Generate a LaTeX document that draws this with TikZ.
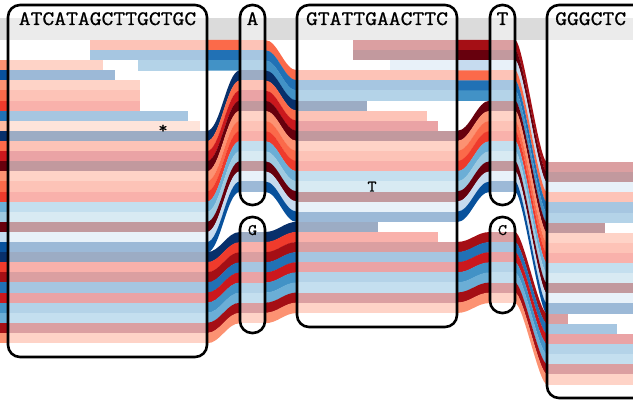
\documentclass[tikz,border=0pt]{standalone}
\usepackage{fontspec}
\usepackage{xcolor}
\usetikzlibrary{positioning}
\newfontfamily\seqfont{Latin Modern Mono}[FakeStretch=1.12, FakeBold=0.8]

% read colours
\definecolor{rd2}{HTML}{FCBBA1}
\definecolor{rd3}{HTML}{FC9272}
\definecolor{rd4}{HTML}{FB6A4A}
\definecolor{rd5}{HTML}{EF3B2C}
\definecolor{rd6}{HTML}{CB181D}
\definecolor{rd7}{HTML}{A50F15}
\definecolor{rd8}{HTML}{67000D}
\definecolor{bl2}{HTML}{C6DBEF}
\definecolor{bl3}{HTML}{9ECAE1}
\definecolor{bl4}{HTML}{6BAED6}
\definecolor{bl5}{HTML}{4292C6}
\definecolor{bl6}{HTML}{2171B5}
\definecolor{bl7}{HTML}{08519C}
\definecolor{bl8}{HTML}{08306B}
\colorlet{headgray}{black!14}
\colorlet{headlight}{black!8}

\newcommand{\rh}{10.1}   % row pitch
\newcommand{\bh}{10.4}   % band height
\newcommand{\baseA}{40}
\newcommand{\baseG}{232}
\newcommand{\baseT}{40}
\newcommand{\baseC}{232}
% faded part of a read inside a node: colour, top, x from, x to
\newcommand{\fadebar}[4]{\fill[#1!40!white] (#3,#2) rectangle (#4,{#2+\bh});}
% full colour band between two nodes: [bend], colour, x1, y1, x2, y2
\newcommand{\flowband}[6][0.4]{%
  \pgfmathsetmacro{\bandl}{#3+#1*(#5-#3)}%
  \pgfmathsetmacro{\bandr}{#5-#1*(#5-#3)}%
  \fill[#2] (#3,#4) .. controls (\bandl,#4) and (\bandr,#6) .. (#5,#6)
    -- (#5,{#6+\bh}) .. controls (\bandr,{#6+\bh}) and (\bandl,{#4+\bh}) .. (#3,{#4+\bh}) -- cycle;}

\begin{document}
\begin{tikzpicture}[x=1pt, y=-1pt,
    seqbox/.style={draw, line width=2.6pt, rounded corners=12pt,
      inner sep=0pt, outer sep=0pt},
    seqlabel/.style={font=\seqfont\fontsize{20.5pt}{20.5pt}\selectfont,
      inner sep=0pt, anchor=base},
    baselabel/.style={font=\seqfont\fontsize{16pt}{16pt}\selectfont,
      inner sep=0pt, anchor=base}
]
\useasboundingbox (0,0) rectangle (633,404);
\clip (0,0) rectangle (633,404);

% header strip
\fill[headgray] (0,18) rectangle (633,40);
\foreach \xa/\xb in {8/207, 240/265, 297/457, 490/515, 547/633}
  \fill[headlight] (\xa,18) rectangle (\xb,40);

% reads in the first node
\foreach \k/\col/\xa/\xb in {0/rd4/90/207, 1/bl6/90/207, 2/rd3/0/103, 2/bl5/138/207,
    3/bl7/0/115, 4/rd3/0/140, 5/rd4/0/140, 6/rd5/0/140, 7/bl6/0/188, 8/rd2/0/200,
    9/bl8/0/207, 10/rd4/0/207, 11/rd6/0/207, 12/rd8/0/207, 13/rd3/0/207,
    14/rd4/0/207, 15/rd5/0/207, 16/bl4/0/207, 17/bl3/0/207, 18/rd8/0/207,
    19/bl2/0/207, 20/bl7/0/207, 21/bl8/0/207, 22/rd5/0/207, 23/rd7/0/207,
    24/bl6/0/207, 25/rd6/0/207, 26/bl5/0/207, 27/bl4/0/207, 28/rd7/0/207,
    29/rd3/0/207}{
  \pgfmathsetmacro{\yy}{40+\k*\rh}
  \fadebar{\col}{\yy}{\xa}{\xb}
  \ifnum\xa=0 \fill[\col] (0,\yy) rectangle (8,{\yy+\bh}); \fi
}

% through A / G into the second node
\foreach \col/\ka/\m/\kb/\kc in {rd4/0/A/0/3, bl6/1/A/1/4, bl5/2/A/2/5, bl8/9/A/3/6,
    rd4/10/A/4/7, rd6/11/A/5/8, rd8/12/A/6/9, rd3/13/A/7/10, rd4/14/A/8/11,
    rd5/15/A/9/12, bl4/16/A/10/13, bl3/17/A/11/14, rd8/18/A/12/15, bl2/19/A/13/16,
    bl7/20/A/14/17, bl8/21/G/0/18, rd5/22/G/1/19, rd7/23/G/2/20, bl6/24/G/3/21,
    rd6/25/G/4/22, bl5/26/G/5/23, bl4/27/G/6/24, rd7/28/G/7/25, rd3/29/G/8/26}{
  \pgfmathsetmacro{\ya}{40+\ka*\rh}
  \pgfmathsetmacro{\yb}{\csname base\m\endcsname+\kb*\rh}
  \pgfmathsetmacro{\yc}{40+\kc*\rh}
  \flowband{\col}{207}{\ya}{240}{\yb}
  \fadebar{\col}{\yb}{240}{265}
  \flowband{\col}{265}{\yb}{297}{\yc}
}

% reads in the second node
\foreach \k/\col/\xa/\xb in {0/rd7/353/457, 1/rd8/353/457, 2/bl2/390/457,
    3/rd4/297/457, 4/bl6/297/457, 5/bl5/297/457, 6/bl8/297/367, 7/rd4/297/427,
    8/rd6/297/438, 9/rd8/297/457, 10/rd3/297/457, 11/rd4/297/457, 12/rd5/297/457,
    13/bl4/297/457, 14/bl3/297/457, 15/rd8/297/457, 16/bl2/297/457, 17/bl7/297/457,
    18/bl8/297/378, 19/rd5/297/438, 20/rd7/297/457, 21/bl6/297/457, 22/rd6/297/457,
    23/bl5/297/457, 24/bl4/297/457, 25/rd7/297/457, 26/rd3/297/457}{
  \pgfmathsetmacro{\yy}{40+\k*\rh}
  \fadebar{\col}{\yy}{\xa}{\xb}
}

% through T / C into the third node
\foreach \col/\kc/\m/\kd/\ke in {rd7/0/T/0/0, rd8/1/T/1/1, bl2/2/T/2/2, rd4/3/T/3/3,
    bl6/4/T/4/4, bl5/5/T/5/5, rd8/9/T/6/6, rd3/10/T/7/7, rd4/11/T/8/8, rd5/12/T/9/9,
    bl4/13/T/10/10, bl3/14/T/11/11, rd8/15/T/12/12, bl2/16/T/13/13, bl7/17/T/14/14,
    rd7/20/C/0/15, bl6/21/C/1/16, rd6/22/C/2/17, bl5/23/C/3/18, bl4/24/C/4/19,
    rd7/25/C/5/20, rd3/26/C/6/21}{
  \pgfmathsetmacro{\ya}{40+\kc*\rh}
  \pgfmathsetmacro{\yb}{\csname base\m\endcsname+\kd*\rh}
  \pgfmathsetmacro{\yc}{162+\ke*\rh}
  \flowband{\col}{457}{\ya}{490}{\yb}
  \fadebar{\col}{\yb}{490}{515}
  \flowband[0.25]{\col}{515}{\yb}{547}{\yc}
}

% reads in the third node
\foreach \k/\col/\xb in {0/rd7/640, 1/rd8/640, 2/bl2/640, 3/rd4/640, 4/bl6/640,
    5/bl5/640, 6/rd8/605, 7/rd3/640, 8/rd4/640, 9/rd5/640, 10/bl4/640, 11/bl3/640,
    12/rd8/640, 13/bl2/640, 14/bl7/640, 15/rd7/568, 16/bl6/617, 17/rd6/640,
    18/bl5/640, 19/bl4/640, 20/rd7/640, 21/rd3/640}{
  \pgfmathsetmacro{\yy}{162+\k*\rh}
  \fadebar{\col}{\yy}{547}{\xb}
}

% sequence nodes
\node[seqbox, minimum width=199pt, minimum height=352pt] (first) at (107.5,181) {};
\node[seqbox, minimum width=25pt, minimum height=200pt] (alleleA) at (252.5,105) {};
\node[seqbox, minimum width=25pt, minimum height=116pt, below=12pt of alleleA] (alleleG) {};
\node[seqbox, minimum width=160pt, minimum height=322pt] (second) at (377,166) {};
\node[seqbox, minimum width=25pt, minimum height=200pt] (alleleT) at (502.5,105) {};
\node[seqbox, minimum width=25pt, minimum height=96pt, below=12pt of alleleT] (alleleC) {};
\node[seqbox, minimum width=133pt, minimum height=393pt] (third) at (613.5,201.5) {};

% sequences
\node[seqlabel] (seq1) at ([yshift=-20pt]first.north) {ATCATAGCTTGCTGC};
\node[seqlabel] (seqA) at ([yshift=-20pt]alleleA.north) {A};
\node[baselabel] (seqG) at ([yshift=-18pt]alleleG.north) {G};
\node[seqlabel] (seq2) at ([yshift=-20pt]second.north) {GTATTGAACTTC};
\node[seqlabel] (seqT) at ([yshift=-20pt]alleleT.north) {T};
\node[baselabel] (seqC) at ([yshift=-18pt]alleleC.north) {C};
\node[seqlabel, anchor=base west] (seq3) at ([xshift=8pt, yshift=-20pt]third.north west) {GGGCTC};

% marks on single reads
\node[baselabel] (star) at (163,133) {*};
\node[baselabel] (snvT) at (372,191.5) {T};
\end{tikzpicture}
\end{document}
